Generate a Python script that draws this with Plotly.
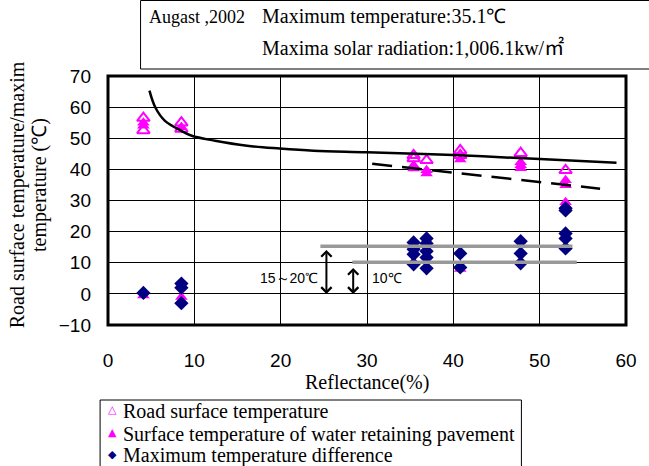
import plotly.graph_objects as go

# ---------------- data ----------------
open_x = [4.1, 4.1, 8.5, 8.5, 35.4, 35.4, 36.9, 40.8, 40.8, 47.8, 53.0]
open_y = [56.5, 52.5, 55.0, 53.0, 44.5, 43.5, 42.9, 46.1, 44.5, 45.2, 39.7]

filled_x = [4.1, 4.1, 8.5, 35.4, 35.4, 36.9, 36.9, 40.8, 47.8, 47.8, 47.8,
            53.0, 53.0, 53.0, 53.0, 4.1, 8.5, 40.8]
filled_y = [55.0, 54.0, 53.5, 41.3, 40.3, 39.7, 38.7, 43.2, 42.3, 41.3, 40.4,
            36.5, 34.9, 29.4, 28.5, -0.5, -1.0, 8.0]

diff_x = [4.1, 8.5, 8.5, 8.5, 35.4, 35.4, 35.4, 35.4,
          36.9, 36.9, 36.9, 36.9, 36.9, 40.8, 40.8,
          47.8, 47.8, 47.8, 53.0, 53.0, 53.0, 53.0, 53.0]
diff_y = [0.3, 3.3, 2.0, -3.0, 16.5, 14.3, 12.7, 9.5,
          17.8, 16.2, 13.7, 11.7, 8.2, 13.0, 8.5,
          16.9, 13.0, 9.8, 27.5, 26.8, 19.4, 17.8, 14.6]

curve_x = [4.8, 5.5, 6.6, 8.5, 9.7, 12.4, 16.1, 19.9, 23.8, 30.0, 40.0, 50.0, 58.9]
curve_y = [65.3, 59.8, 55.6, 52.4, 50.8, 49.2, 47.6, 46.7, 46.0, 45.5, 44.6, 43.3, 42.1]

dash_x = [30.6, 57.0]
dash_y = [41.8, 33.8]

gray1_x = [24.6, 53.8]
gray1_y = [15.3, 15.3]
gray2_x = [28.3, 54.3]
gray2_y = [10.2, 10.2]

arrow_x = [25.3, 28.4]
arrow_top = [14.6, 8.8]
arrow_bottom = [0.0, 0.0]

x_ticks = [0, 10, 20, 30, 40, 50, 60]
y_ticks = [-10, 0, 10, 20, 30, 40, 50, 60, 70]

legend_labels = ["Road surface temperature",
                 "Surface temperature of water retaining pavement",
                 "Maximum temperature difference"]

# ---------------- layout helpers ----------------
W, H = 649, 466
L, R, T, B = 108, 633, 76, 325


def xp(px):
    return (px - L) / (R - L)


def yp(py):
    return (B - py) / (B - T)


SERIF = "Liberation Serif"
SANS = "Liberation Sans"
MAG = "#FF00FF"
NAVY = "#000080"

fig = go.Figure()

fig.add_trace(go.Scatter(x=filled_x, y=filled_y, mode="markers", showlegend=False,
                         marker=dict(symbol="triangle-up", size=11, color=MAG,
                                     line=dict(width=0))))
fig.add_trace(go.Scatter(x=open_x, y=open_y, mode="markers", showlegend=False,
                         marker=dict(symbol="triangle-up-open", size=11, color=MAG,
                                     line=dict(width=2, color=MAG))))
fig.add_trace(go.Scatter(x=diff_x, y=diff_y, mode="markers", showlegend=False,
                         marker=dict(symbol="diamond", size=11, color=NAVY,
                                     line=dict(width=0))))
fig.add_trace(go.Scatter(x=curve_x, y=curve_y, mode="lines", showlegend=False,
                         line=dict(color="black", width=2.5, shape="spline",
                                   smoothing=1.0)))
fig.add_trace(go.Scatter(x=dash_x, y=dash_y, mode="lines", showlegend=False,
                         line=dict(color="black", width=2.5, dash="20px,10px")))
fig.add_trace(go.Scatter(x=gray1_x, y=gray1_y, mode="lines", showlegend=False,
                         line=dict(color="#999999", width=3.5)))
fig.add_trace(go.Scatter(x=gray2_x, y=gray2_y, mode="lines", showlegend=False,
                         line=dict(color="#999999", width=3.5)))

annotations = []
# double-headed arrows
for ax_, top, bot in zip(arrow_x, arrow_top, arrow_bottom):
    annotations.append(dict(x=ax_, y=bot, ax=ax_, ay=top, xref="x", yref="y",
                            axref="x", ayref="y", text="", showarrow=True,
                            arrowhead=4, startarrowhead=4, arrowside="end+start",
                            arrowwidth=2, arrowsize=1, arrowcolor="black"))
annotations.append(dict(x=24.6, y=5, xref="x", yref="y", text="15～20℃",
                        showarrow=False, xanchor="right", yanchor="middle",
                        font=dict(family=SANS, size=14, color="black")))
annotations.append(dict(x=30.4, y=5, xref="x", yref="y", text="10℃",
                        showarrow=False, xanchor="left", yanchor="middle",
                        font=dict(family=SANS, size=14, color="black")))

# title box text
annotations.append(dict(x=xp(148), y=yp(17), xref="paper", yref="paper",
                        text="Augast ,2002", showarrow=False, xanchor="left",
                        yanchor="middle", font=dict(family=SERIF, size=18, color="black")))
annotations.append(dict(x=xp(262), y=yp(17), xref="paper", yref="paper",
                        text="Maximum temperature:35.1℃", showarrow=False, xanchor="left",
                        yanchor="middle", font=dict(family=SERIF, size=20, color="black")))
annotations.append(dict(x=xp(262), y=yp(46), xref="paper", yref="paper",
                        text="Maxima solar radiation:1,006.1kw/"
                             "<span style=\"font-family:Noto Sans CJK JP\">㎡</span>",
                        showarrow=False, xanchor="left", yanchor="middle",
                        font=dict(family=SERIF, size=20, color="black")))

# axis titles
annotations.append(dict(x=xp(370), y=yp(382), xref="paper", yref="paper",
                        text="Reflectance(%)", showarrow=False, xanchor="center",
                        yanchor="middle", font=dict(family=SERIF, size=20, color="black")))
annotations.append(dict(x=xp(16), y=yp(195), xref="paper", yref="paper",
                        text="Road surface temperature/maxim", showarrow=False,
                        textangle=-90, xanchor="center", yanchor="middle",
                        font=dict(family=SERIF, size=20, color="black")))
annotations.append(dict(x=xp(38), y=yp(185), xref="paper", yref="paper",
                        text="temperature (℃)", showarrow=False,
                        textangle=-90, xanchor="center", yanchor="middle",
                        font=dict(family=SERIF, size=20, color="black")))

# legend (manual)
glyphs = ["△", "▲", "◆"]
glyph_colors = [MAG, MAG, NAVY]
leg_y = [411, 434, 456]
for g, c, lab, py in zip(glyphs, glyph_colors, legend_labels, leg_y):
    annotations.append(dict(x=xp(113), y=yp(py - 2), xref="paper", yref="paper",
                            text=g, showarrow=False, xanchor="center", yanchor="middle",
                            font=dict(family="DejaVu Sans", size=11, color=c)))
    annotations.append(dict(x=xp(121), y=yp(py), xref="paper", yref="paper",
                            text=lab, showarrow=False, xanchor="left", yanchor="middle",
                            font=dict(family=SERIF, size=20, color="black")))

shapes = [
    dict(type="rect", xref="paper", yref="paper", x0=0, x1=1, y0=0, y1=1,
         line=dict(color="black", width=3), layer="above"),
    dict(type="rect", xref="paper", yref="paper", x0=xp(141), x1=xp(662),
         y0=yp(69), y1=yp(0.5), line=dict(color="black", width=1),
         fillcolor="rgba(0,0,0,0)"),
    dict(type="rect", xref="paper", yref="paper", x0=xp(100), x1=xp(527),
         y0=yp(472), y1=yp(400), line=dict(color="black", width=1),
         fillcolor="rgba(0,0,0,0)"),
]

fig.update_layout(
    width=W, height=H,
    margin=dict(l=L, r=W - R, t=T, b=H - B, pad=0),
    paper_bgcolor="white", plot_bgcolor="white",
    showlegend=False,
    annotations=annotations,
    shapes=shapes,
    xaxis=dict(range=[0, 60], tickvals=x_ticks, ticktext=[str(v) for v in x_ticks],
               showgrid=True, gridcolor="black", gridwidth=1, zeroline=False,
               showline=False, ticks="", ticklabelstandoff=22,
               tickfont=dict(family=SANS, size=19, color="black")),
    yaxis=dict(range=[-10, 70], tickvals=y_ticks,
               ticktext=[("−10" if v < 0 else str(v)) for v in y_ticks],
               showgrid=True, gridcolor="black", gridwidth=1, zeroline=True,
               zerolinecolor="black", zerolinewidth=1,
               showline=False, ticks="", ticklabelstandoff=16,
               tickfont=dict(family=SANS, size=19, color="black")),
)

fig.write_html("out.html")
